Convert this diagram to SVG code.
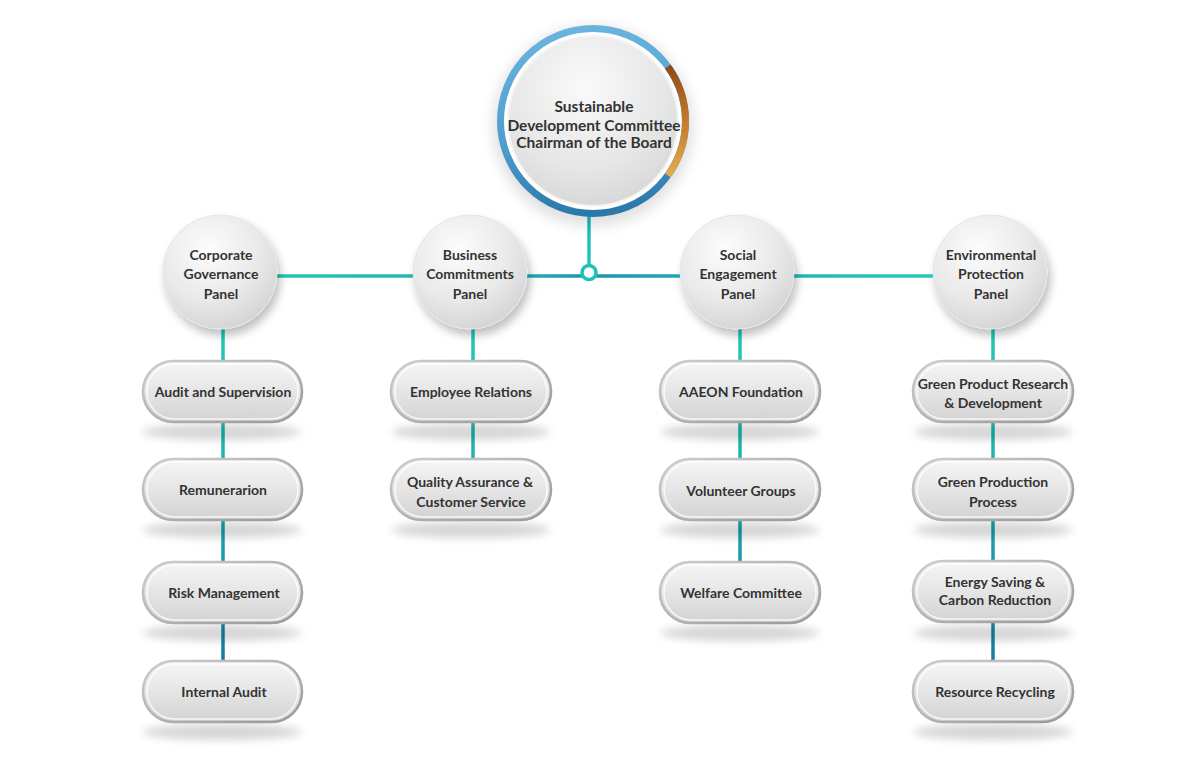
<svg xmlns="http://www.w3.org/2000/svg" width="1200" height="779" viewBox="0 0 1200 779">
<style>
  .t { font-family: Lato, "Open Sans", "Liberation Sans", sans-serif; font-weight: 700; fill: #333333; text-anchor: middle; }
  .tp { font-size: 14px; }
  .tc { font-size: 14px; }
  .tt { font-size: 15.5px; }
  .pill { fill: url(#pillFill); stroke: url(#pillStroke); stroke-width: 2.6; }
  .pillHi { fill: none; stroke: #ffffff; stroke-opacity: 0.8; stroke-width: 1.5; }
  .pshadow { fill: #000000; opacity: 0.16; filter: url(#blur4); }
  .panel { fill: url(#panelFill); stroke: #e6e6e6; stroke-width: 1; filter: url(#dropShadow); }
  .hline { stroke: url(#hGrad); stroke-width: 3.5; fill: none; }
  .vline { stroke: url(#vGrad); stroke-width: 3.5; fill: none; }
</style>
<defs>
  <linearGradient id="pillFill" x1="0" y1="0" x2="0" y2="1">
    <stop offset="0" stop-color="#f6f6f6"/>
    <stop offset="0.45" stop-color="#e7e7e7"/>
    <stop offset="1" stop-color="#d2d2d2"/>
  </linearGradient>
  <linearGradient id="pillStroke" x1="0" y1="0" x2="1" y2="1">
    <stop offset="0" stop-color="#cdcdcd"/>
    <stop offset="1" stop-color="#989898"/>
  </linearGradient>
  <radialGradient id="panelFill" cx="0.4" cy="0.3" r="0.75">
    <stop offset="0" stop-color="#fcfcfc"/>
    <stop offset="0.6" stop-color="#e9e9e9"/>
    <stop offset="1" stop-color="#d2d2d2"/>
  </radialGradient>
  <radialGradient id="topFill" cx="0.45" cy="0.3" r="0.8">
    <stop offset="0" stop-color="#fafafa"/>
    <stop offset="0.6" stop-color="#e6e6e6"/>
    <stop offset="1" stop-color="#d2d2d2"/>
  </radialGradient>
  <linearGradient id="ringBlue" x1="0.3" y1="0" x2="0.4" y2="1">
    <stop offset="0" stop-color="#6ab4de"/>
    <stop offset="0.6" stop-color="#4f9ccf"/>
    <stop offset="1" stop-color="#2b79ab"/>
  </linearGradient>
  <linearGradient id="ringOrange" x1="0" y1="66" x2="0" y2="176" gradientUnits="userSpaceOnUse">
    <stop offset="0" stop-color="#8e4a17"/>
    <stop offset="0.5" stop-color="#c37b2c"/>
    <stop offset="1" stop-color="#e3ac4c"/>
  </linearGradient>
  <linearGradient id="hGrad" x1="222" y1="0" x2="990" y2="0" gradientUnits="userSpaceOnUse">
    <stop offset="0" stop-color="#27c6b5"/>
    <stop offset="0.38" stop-color="#20b2b5"/>
    <stop offset="0.48" stop-color="#1a93b0"/>
    <stop offset="0.6" stop-color="#1fa8b6"/>
    <stop offset="1" stop-color="#2bd0bd"/>
  </linearGradient>
  <linearGradient id="vGrad" x1="0" y1="330" x2="0" y2="690" gradientUnits="userSpaceOnUse">
    <stop offset="0" stop-color="#22c8b3"/>
    <stop offset="0.4" stop-color="#1cb2b0"/>
    <stop offset="1" stop-color="#17769c"/>
  </linearGradient>
  <linearGradient id="topLine" x1="0" y1="220" x2="0" y2="266" gradientUnits="userSpaceOnUse">
    <stop offset="0" stop-color="#22b9c0"/>
    <stop offset="1" stop-color="#25c6bc"/>
  </linearGradient>
  <filter id="blur4" x="-30%" y="-100%" width="160%" height="300%">
    <feGaussianBlur stdDeviation="4"/>
  </filter>
  <filter id="dropShadow" x="-30%" y="-30%" width="170%" height="170%">
    <feGaussianBlur in="SourceAlpha" stdDeviation="5"/>
    <feOffset dx="3" dy="6" result="ob"/>
    <feComponentTransfer><feFuncA type="linear" slope="0.26"/></feComponentTransfer>
    <feMerge><feMergeNode/><feMergeNode in="SourceGraphic"/></feMerge>
  </filter>
  <filter id="topGlow" x="-30%" y="-30%" width="160%" height="160%">
    <feGaussianBlur stdDeviation="7"/>
  </filter>
</defs>

<rect x="0" y="0" width="1200" height="779" fill="#ffffff"/>

<g id="connectors">
  <line x1="589" y1="215" x2="589" y2="266" stroke="url(#topLine)" stroke-width="3.5"/>
  <line class="hline" x1="222" y1="276" x2="990" y2="276"/>
  <line class="vline" x1="223" y1="320" x2="223" y2="690"/>
  <line class="vline" x1="473" y1="320" x2="473" y2="489"/>
  <line class="vline" x1="740" y1="320" x2="740" y2="592"/>
  <line class="vline" x1="993" y1="320" x2="993" y2="690"/>
  <circle cx="589" cy="272.5" r="7" fill="#ffffff" stroke="#1fc0b8" stroke-width="3.5"/>
</g>

<g id="node-top">
  <circle cx="593" cy="126" r="100" fill="#000000" opacity="0.12" filter="url(#topGlow)"/>
  <circle cx="593" cy="121" r="92.5" fill="#ffffff" stroke="url(#ringBlue)" stroke-width="7"/>
  <path d="M 667.8 66.6 A 92.5 92.5 0 0 1 667.8 175.4" fill="none" stroke="url(#ringOrange)" stroke-width="7"/>
  <circle cx="593" cy="121" r="85" fill="url(#topFill)" stroke="#f4f4f4" stroke-width="2"/>
  <text class="t tt" x="594" y="112">Sustainable</text>
  <text class="t tt" x="594" y="131">Development Committee</text>
  <text class="t tt" x="594" y="148">Chairman of the Board</text>
</g>

<g id="node-corporate">
  <circle class="panel" cx="220" cy="272" r="57"/>
  <text class="t tc" x="221" y="260">Corporate</text>
  <text class="t tc" x="221" y="279">Governance</text>
  <text class="t tc" x="221" y="299">Panel</text>
</g>
<g id="node-business">
  <circle class="panel" cx="470" cy="272" r="57"/>
  <text class="t tc" x="470" y="260">Business</text>
  <text class="t tc" x="470" y="279">Commitments</text>
  <text class="t tc" x="470" y="299">Panel</text>
</g>
<g id="node-social">
  <circle class="panel" cx="737" cy="272" r="57"/>
  <text class="t tc" x="738" y="260">Social</text>
  <text class="t tc" x="738" y="279">Engagement</text>
  <text class="t tc" x="738" y="299">Panel</text>
</g>
<g id="node-environmental">
  <circle class="panel" cx="990" cy="272" r="57"/>
  <text class="t tc" x="991" y="260">Environmental</text>
  <text class="t tc" x="991" y="279">Protection</text>
  <text class="t tc" x="991" y="299">Panel</text>
</g>

<!-- Column 1 -->
<g id="node-audit-supervision">
  <ellipse class="pshadow" cx="222" cy="432" rx="80" ry="8"/>
  <rect class="pill" x="143" y="361" width="159" height="61" rx="30.5"/>
  <rect class="pillHi" x="147" y="364" width="151" height="55" rx="27.5"/>
  <text class="t tp" x="223" y="397">Audit and Supervision</text>
</g>
<g id="node-remuneration">
  <ellipse class="pshadow" cx="222" cy="530" rx="80" ry="8"/>
  <rect class="pill" x="143" y="459" width="159" height="61" rx="30.5"/>
  <rect class="pillHi" x="147" y="462" width="151" height="55" rx="27.5"/>
  <text class="t tp" x="223" y="495">Remunerarion</text>
</g>
<g id="node-risk">
  <ellipse class="pshadow" cx="222" cy="633" rx="80" ry="8"/>
  <rect class="pill" x="143" y="562" width="159" height="61" rx="30.5"/>
  <rect class="pillHi" x="147" y="565" width="151" height="55" rx="27.5"/>
  <text class="t tp" x="224" y="598">Risk Management</text>
</g>
<g id="node-internal-audit">
  <ellipse class="pshadow" cx="222" cy="732" rx="80" ry="8"/>
  <rect class="pill" x="143" y="661" width="159" height="61" rx="30.5"/>
  <rect class="pillHi" x="147" y="664" width="151" height="55" rx="27.5"/>
  <text class="t tp" x="224" y="697">Internal Audit</text>
</g>

<!-- Column 2 -->
<g id="node-employee-relations">
  <ellipse class="pshadow" cx="471" cy="432" rx="80" ry="8"/>
  <rect class="pill" x="391" y="361" width="160" height="61" rx="30.5"/>
  <rect class="pillHi" x="395" y="364" width="152" height="55" rx="27.5"/>
  <text class="t tp" x="471" y="397">Employee Relations</text>
</g>
<g id="node-quality">
  <ellipse class="pshadow" cx="471" cy="530" rx="80" ry="8"/>
  <rect class="pill" x="391" y="459" width="160" height="61" rx="30.5"/>
  <rect class="pillHi" x="395" y="462" width="152" height="55" rx="27.5"/>
  <text class="t tp" x="470" y="487">Quality Assurance &amp;</text>
  <text class="t tp" x="471" y="507">Customer Service</text>
</g>

<!-- Column 3 -->
<g id="node-aaeon">
  <ellipse class="pshadow" cx="740" cy="432" rx="80" ry="8"/>
  <rect class="pill" x="660" y="361" width="160" height="61" rx="30.5"/>
  <rect class="pillHi" x="664" y="364" width="152" height="55" rx="27.5"/>
  <text class="t tp" x="741" y="397">AAEON Foundation</text>
</g>
<g id="node-volunteer">
  <ellipse class="pshadow" cx="740" cy="530" rx="80" ry="8"/>
  <rect class="pill" x="660" y="459" width="160" height="61" rx="30.5"/>
  <rect class="pillHi" x="664" y="462" width="152" height="55" rx="27.5"/>
  <text class="t tp" x="741" y="496">Volunteer Groups</text>
</g>
<g id="node-welfare">
  <ellipse class="pshadow" cx="740" cy="633" rx="80" ry="8"/>
  <rect class="pill" x="660" y="562" width="160" height="61" rx="30.5"/>
  <rect class="pillHi" x="664" y="565" width="152" height="55" rx="27.5"/>
  <text class="t tp" x="741" y="598">Welfare Committee</text>
</g>

<!-- Column 4 -->
<g id="node-green-rd">
  <ellipse class="pshadow" cx="993" cy="432" rx="80" ry="8"/>
  <rect class="pill" x="913" y="361" width="160" height="61" rx="30.5"/>
  <rect class="pillHi" x="917" y="364" width="152" height="55" rx="27.5"/>
  <text class="t tp" x="993" y="389">Green Product Research</text>
  <text class="t tp" x="993" y="408">&amp; Development</text>
</g>
<g id="node-green-production">
  <ellipse class="pshadow" cx="993" cy="530" rx="80" ry="8"/>
  <rect class="pill" x="913" y="459" width="160" height="61" rx="30.5"/>
  <rect class="pillHi" x="917" y="462" width="152" height="55" rx="27.5"/>
  <text class="t tp" x="993" y="487">Green Production</text>
  <text class="t tp" x="993" y="507">Process</text>
</g>
<g id="node-energy">
  <ellipse class="pshadow" cx="993" cy="633" rx="80" ry="8"/>
  <rect class="pill" x="913" y="561" width="160" height="61" rx="30.5"/>
  <rect class="pillHi" x="917" y="564" width="152" height="55" rx="27.5"/>
  <text class="t tp" x="995" y="587">Energy Saving &amp;</text>
  <text class="t tp" x="995" y="605">Carbon Reduction</text>
</g>
<g id="node-recycling">
  <ellipse class="pshadow" cx="993" cy="732" rx="80" ry="8"/>
  <rect class="pill" x="913" y="661" width="160" height="61" rx="30.5"/>
  <rect class="pillHi" x="917" y="664" width="152" height="55" rx="27.5"/>
  <text class="t tp" x="995" y="697">Resource Recycling</text>
</g>
</svg>
